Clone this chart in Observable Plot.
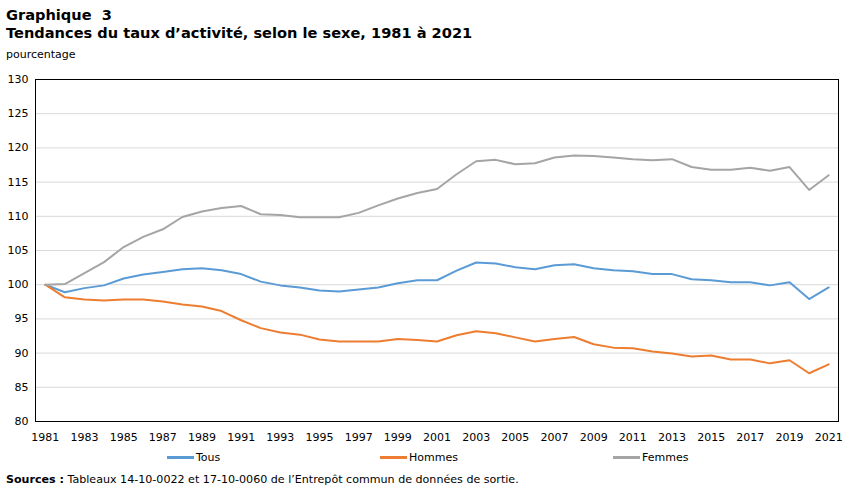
<!DOCTYPE html>
<html><head><meta charset="utf-8">
<script src="https://cdn.jsdelivr.net/npm/d3@7"></script>
<script src="https://cdn.jsdelivr.net/npm/@observablehq/plot@0.6"></script>
<style>
body{margin:0;background:#fff;font-family:"DejaVu Sans",Verdana,sans-serif;}
#wrap{position:relative;width:851px;height:492px;overflow:hidden;}
.t{position:absolute;left:6px;font-weight:bold;font-size:14.6px;color:#000;white-space:nowrap;}
#unit{position:absolute;left:6px;top:48px;font-size:11px;color:#000;}
#chart{position:absolute;left:0;top:65px;}
.leg{position:absolute;top:451px;font-size:11px;display:flex;align-items:center;}
.sw{display:inline-block;width:27px;height:2.5px;margin-right:2px;}
#src{position:absolute;left:6px;top:473px;font-size:11.1px;white-space:nowrap;}
</style></head>
<body><div id="wrap">
<div class="t" style="top:6px">Graphique&nbsp; 3</div>
<div class="t" style="top:24px">Tendances du taux d’activité, selon le sexe, 1981 à 2021</div>
<div id="unit">pourcentage</div>
<div id="chart"></div>
<div id="legend"></div>
<div id="src"><b>Sources :</b> Tableaux 14-10-0022 et 17-10-0060 de l’Entrepôt commun de données de sortie.</div>
</div>
<script>
const years = d3.range(1981, 2022);
const tous = [100,98.9,99.5,99.9,100.9,101.5,101.85,102.25,102.4,102.1,101.55,100.45,99.9,99.6,99.15,99.0,99.3,99.6,100.2,100.65,100.65,102.05,103.25,103.1,102.55,102.25,102.85,103.0,102.4,102.1,101.95,101.55,101.55,100.8,100.65,100.35,100.35,99.9,100.35,97.9,99.6];
const hommes = [100,98.15,97.85,97.7,97.85,97.85,97.55,97.1,96.8,96.15,94.8,93.65,93.0,92.7,92.0,91.7,91.7,91.7,92.05,91.9,91.7,92.6,93.2,92.9,92.3,91.7,92.05,92.35,91.3,90.8,90.7,90.25,89.95,89.5,89.65,89.05,89.05,88.5,88.95,87.05,88.35];
const femmes = [100,100.1,101.7,103.3,105.5,107.0,108.1,109.9,110.7,111.2,111.5,110.3,110.2,109.85,109.85,109.85,110.5,111.6,112.6,113.4,114.0,116.15,118.05,118.25,117.6,117.75,118.6,118.9,118.8,118.6,118.35,118.2,118.35,117.2,116.8,116.8,117.1,116.65,117.2,113.85,116.0];
const seriesNames = ["Tous","Hommes","Femmes"];
const seriesColors = ["#5b9bd5","#ed7d31","#a5a5a5"];
const yTicks = d3.range(80, 131, 5);
const xTicks = d3.range(1981, 2022, 2);

const rows = [];
[tous, hommes, femmes].forEach((arr, i) => arr.forEach((v, j) => rows.push({year: years[j], value: v, serie: seriesNames[i]})));

const chart = Plot.plot({
  width: 851, height: 385,
  marginLeft: 35, marginRight: 13, marginTop: 14, marginBottom: 29,
  style: {fontFamily: '"DejaVu Sans", Verdana, sans-serif', fontSize: "11px", color: "#000"},
  x: {domain: [1980.5, 2021.5], ticks: xTicks, tickFormat: "d", tickSize: 0, tickPadding: 12, label: null},
  y: {domain: [80, 130], ticks: yTicks, tickSize: 0, tickPadding: 7, label: null},
  color: {domain: seriesNames, range: seriesColors},
  marks: [
    Plot.ruleY(yTicks.filter(d => d > 80 && d < 130), {stroke: "#d9d9d9", strokeWidth: 1}),
    Plot.line(rows, {x: "year", y: "value", stroke: "serie", strokeWidth: 2}),
    Plot.frame({stroke: "#000", strokeWidth: 1})
  ]
});
document.getElementById("chart").appendChild(chart);

const legPos = [167, 380, 613];
const leg = document.getElementById("legend");
seriesNames.forEach((n, i) => {
  const d = document.createElement("div");
  d.className = "leg";
  d.style.left = legPos[i] + "px";
  d.innerHTML = `<span class="sw" style="background:${seriesColors[i]}"></span>${n}`;
  leg.appendChild(d);
});
</script>
</body></html>
